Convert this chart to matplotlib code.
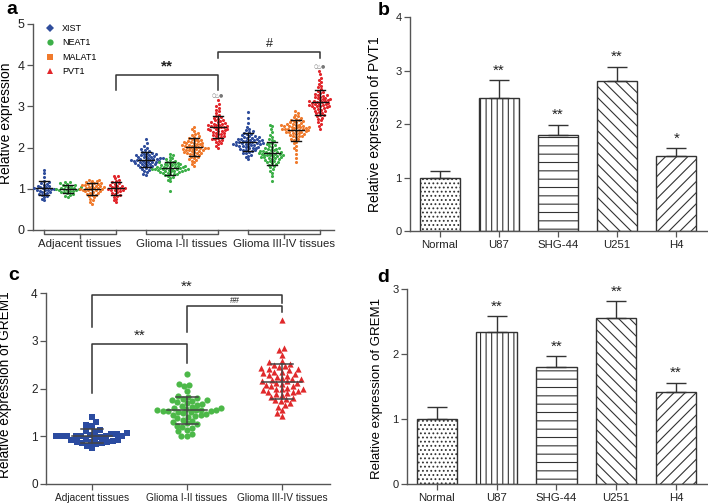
import numpy as np
import matplotlib
matplotlib.use("Agg")
import matplotlib.pyplot as plt
from matplotlib.lines import Line2D
import matplotlib.transforms as mtransforms

plt.rcParams['font.family'] = ['Liberation Sans', 'DejaVu Sans']
plt.rcParams['hatch.linewidth'] = 0.8

# ---------------- data ----------------
groups_a = ["Adjacent tissues", "Glioma I-II tissues", "Glioma III-IV tissues"]
genes_a = ["XIST", "NEAT1", "MALAT1", "PVT1"]

adj_xist = [0.72,0.76,0.8,0.82,0.85,0.87,0.88,0.9,0.92,0.93,0.95,0.96,0.97,0.98,1.0,1.0,1.01,1.02,1.04,1.05,1.06,1.08,1.1,1.12,1.14,1.17,1.2,1.28,1.38,1.46]
adj_neat1 = [0.8,0.83,0.86,0.88,0.9,0.92,0.93,0.95,0.96,0.97,0.98,0.99,1.0,1.0,1.01,1.02,1.03,1.04,1.05,1.06,1.08,1.09,1.1,1.12,1.14,1.16,1.17,0.94]
adj_malat1 = [0.62,0.68,0.72,0.76,0.79,0.82,0.84,0.86,0.88,0.9,0.91,0.93,0.94,0.95,0.96,0.97,0.98,0.99,1.0,1.0,1.01,1.02,1.03,1.04,1.05,1.06,1.07,1.08,1.09,1.1,1.11,1.12,1.13,1.14,1.15,1.16,1.18,1.2,1.21,1.22]
adj_pvt1 = [0.68,0.72,0.76,0.8,0.83,0.86,0.88,0.9,0.92,0.94,0.96,0.97,0.98,1.0,1.0,1.01,1.02,1.04,1.05,1.07,1.08,1.1,1.12,1.14,1.16,1.19,1.22,1.26,1.3,1.32]

g12_xist = [1.33,1.36,1.4,1.43,1.45,1.47,1.5,1.52,1.53,1.55,1.56,1.58,1.59,1.6,1.61,1.62,1.63,1.64,1.65,1.66,1.67,1.68,1.68,1.69,1.7,1.7,1.71,1.72,1.72,1.73,1.74,1.75,1.76,1.77,1.78,1.79,1.8,1.81,1.82,1.83,1.84,1.85,1.86,1.88,1.9,1.92,1.94,1.97,2.0,2.05,2.1,2.22,1.57,1.66,1.74]
g12_neat1 = [0.95,1.18,1.22,1.26,1.29,1.31,1.33,1.35,1.36,1.38,1.39,1.4,1.41,1.42,1.43,1.44,1.45,1.45,1.46,1.47,1.47,1.48,1.48,1.49,1.5,1.5,1.51,1.52,1.52,1.53,1.54,1.55,1.56,1.57,1.58,1.59,1.6,1.61,1.62,1.63,1.64,1.65,1.66,1.68,1.7,1.72,1.75,1.78,1.82,1.85,1.37,1.43,1.49,1.53,1.58]
g12_malat1 = [1.55,1.6,1.64,1.68,1.7,1.72,1.74,1.76,1.78,1.8,1.82,1.84,1.85,1.86,1.88,1.89,1.9,1.91,1.92,1.93,1.94,1.95,1.96,1.97,1.98,1.99,2.0,2.0,2.01,2.02,2.03,2.04,2.05,2.06,2.07,2.08,2.09,2.1,2.11,2.12,2.13,2.14,2.15,2.16,2.18,2.19,2.2,2.22,2.24,2.26,2.28,2.3,2.33,2.36,2.4,2.45,2.5,1.87,1.96,2.03]
g12_pvt1 = [2.0,2.04,2.08,2.1,2.13,2.16,2.18,2.2,2.22,2.24,2.26,2.28,2.3,2.32,2.34,2.36,2.38,2.4,2.41,2.42,2.44,2.45,2.46,2.48,2.49,2.5,2.51,2.52,2.54,2.55,2.56,2.58,2.6,2.62,2.64,2.66,2.68,2.7,2.72,2.74,2.76,2.8,2.84,2.88,2.92,2.96,3.0,3.05,3.15,2.35,2.43,2.53,2.61,2.27,2.57]

g34_xist = [1.72,1.76,1.8,1.83,1.86,1.88,1.9,1.92,1.94,1.95,1.97,1.98,2.0,2.01,2.02,2.03,2.04,2.05,2.06,2.07,2.08,2.09,2.1,2.1,2.11,2.12,2.13,2.14,2.15,2.16,2.17,2.18,2.19,2.2,2.21,2.22,2.23,2.24,2.25,2.26,2.28,2.3,2.32,2.34,2.36,2.38,2.4,2.42,2.45,2.5,2.6,2.72,2.87,1.99,2.06,2.13,2.18,2.27,1.93,2.08]
g34_neat1 = [1.2,1.3,1.38,1.44,1.48,1.52,1.55,1.58,1.6,1.62,1.64,1.66,1.68,1.7,1.72,1.74,1.75,1.76,1.78,1.79,1.8,1.81,1.82,1.83,1.84,1.85,1.86,1.87,1.88,1.89,1.9,1.91,1.92,1.93,1.95,1.96,1.98,2.0,2.02,2.04,2.06,2.08,2.1,2.12,2.15,2.18,2.2,2.25,2.3,2.38,2.45,2.52,2.56,1.77,1.85,1.9,1.73,1.97,1.67,1.83]
g34_malat1 = [1.65,1.75,1.85,1.95,2.0,2.05,2.1,2.14,2.18,2.2,2.22,2.25,2.27,2.29,2.31,2.33,2.35,2.36,2.38,2.39,2.4,2.41,2.42,2.43,2.44,2.45,2.46,2.47,2.48,2.49,2.5,2.51,2.52,2.53,2.54,2.55,2.56,2.58,2.6,2.62,2.64,2.66,2.68,2.7,2.72,2.74,2.76,2.8,2.84,2.88,2.37,2.43,2.5,2.57,2.34,2.46,2.53,2.61,2.28,2.65]
g34_pvt1 = [2.45,2.52,2.58,2.62,2.66,2.7,2.73,2.76,2.78,2.8,2.83,2.85,2.87,2.9,2.92,2.94,2.96,2.98,3.0,3.01,3.02,3.04,3.05,3.06,3.08,3.09,3.1,3.12,3.13,3.14,3.15,3.17,3.18,3.2,3.22,3.24,3.26,3.28,3.3,3.32,3.35,3.38,3.42,3.46,3.5,3.55,3.6,3.65,3.7,3.78,3.85,3.03,3.11,3.16,2.97,3.07,3.21,2.89,3.27,3.0]

cells = ["Normal", "U87", "SHG-44", "U251", "H4"]
pvt1_mean = [1.0, 2.49, 1.79, 2.80, 1.40]
pvt1_err = [0.12, 0.33, 0.20, 0.27, 0.15]
pvt1_sig = ["", "**", "**", "**", "*"]

groups_c = ["Adjacent tissues", "Glioma I-II tissues", "Glioma III-IV tissues"]
grem1_adj = [0.75,0.8,0.83,0.85,0.86,0.87,0.88,0.9,0.92,0.93,0.94,0.96,0.98,1.0,1.0,1.0,1.0,1.0,1.0,1.01,1.02,1.04,1.05,1.06,1.08,1.1,1.13,1.22,1.24,1.3,1.4,0.89]
grem1_g12 = [1.0,1.01,1.05,1.1,1.14,1.18,1.2,1.22,1.25,1.28,1.3,1.32,1.35,1.38,1.4,1.42,1.44,1.46,1.48,1.5,1.51,1.52,1.53,1.54,1.55,1.56,1.58,1.6,1.62,1.64,1.66,1.68,1.7,1.72,1.74,1.76,1.78,1.8,1.82,1.85,1.95,2.05,2.08,2.1,2.3,1.53,1.55,1.6,1.45,1.75]
grem1_g34 = [1.43,1.48,1.55,1.62,1.65,1.7,1.75,1.78,1.8,1.83,1.86,1.88,1.9,1.93,1.95,1.98,2.0,2.02,2.05,2.08,2.1,2.12,2.15,2.18,2.2,2.22,2.25,2.28,2.3,2.32,2.35,2.38,2.4,2.42,2.45,2.5,2.52,2.55,2.58,2.7,2.8,2.85,3.43,2.12,2.2,1.92,2.05,2.35,2.48,2.0,1.97,2.27,2.15,2.4,1.73]

grem1_mean = [1.0, 2.34, 1.80, 2.56, 1.42]
grem1_err = [0.18, 0.24, 0.17, 0.26, 0.14]
grem1_sig = ["", "**", "**", "**", "**"]

# ---------------- styling ----------------
W, H = 708, 504
fig = plt.figure(figsize=(W / 100, H / 100), dpi=100)
AX = '#555555'
DARK = '#333333'
col_a = {"XIST": '#2f4d9c', "NEAT1": '#3caf48', "MALAT1": '#f07a2c', "PVT1": '#e2262b'}
mk_a = {"XIST": 'D', "NEAT1": 'o', "MALAT1": 's', "PVT1": '^'}


def px_axes(l, r, t, b):
    return fig.add_axes([l / W, (H - b) / H, (r - l) / W, (b - t) / H])


def style(ax, fs):
    for s in ['top', 'right']:
        ax.spines[s].set_visible(False)
    for s in ['left', 'bottom']:
        ax.spines[s].set_color(AX)
        ax.spines[s].set_linewidth(1.0)
    ax.tick_params(direction='out', length=4, width=0.9, color=AX, labelsize=fs, labelcolor='#222222', pad=2)


def swarm(ax, vals, diam_px):
    bb = ax.get_position()
    x0, x1 = ax.get_xlim()
    y0, y1 = ax.get_ylim()
    ppx = bb.width * W / (x1 - x0)
    ppy = bb.height * H / (y1 - y0)
    vals = np.asarray(vals, float)
    ys = vals * ppy
    order = np.argsort(vals, kind='stable')
    px, py = [], []
    out = np.zeros(len(vals))
    for i in order:
        y = ys[i]
        iv = []
        for a, b in zip(px, py):
            dy = abs(b - y)
            if dy < diam_px:
                w = np.sqrt(diam_px ** 2 - dy ** 2)
                iv.append((a - w, a + w))
        cands = [0.0] + [a for a, b in iv] + [b for a, b in iv]
        cands.sort(key=lambda c: (abs(c), c))
        chosen = 0.0
        for c in cands:
            if all(not (a + 1e-6 < c < b - 1e-6) for a, b in iv):
                chosen = c
                break
        px.append(chosen)
        py.append(y)
        out[i] = chosen / ppx
    return out


def mean_sd(ax, x, vals, half_mean, half_cap, color, lw):
    m = np.mean(vals)
    sd = np.std(vals, ddof=1)
    ax.plot([x - half_mean, x + half_mean], [m, m], color=color, lw=lw, zorder=5)
    ax.plot([x, x], [m - sd, m + sd], color=color, lw=lw, zorder=5)
    for yv in (m - sd, m + sd):
        ax.plot([x - half_cap, x + half_cap], [yv, yv], color=color, lw=lw, zorder=5)


def bracket(ax, x1, x2, ytop, yl, yr, color='#333333', lw=1.1):
    ax.plot([x1, x1, x2, x2], [yl, ytop, ytop, yr], color=color, lw=lw, clip_on=False, zorder=6)


# ---------------- panel a ----------------
axa = px_axes(33, 334, 24, 230)
axa.set_xlim(-0.46, 12.08)
axa.set_ylim(0, 5)
style(axa, 9)
axa.set_yticks([0, 1, 2, 3, 4, 5])
axa.set_xticks([])
axa.set_ylabel("Relative expression", fontsize=10)
axa.yaxis.set_label_coords(-0.068, 0.52)

data_a = [[adj_xist, adj_neat1, adj_malat1, adj_pvt1],
          [g12_xist, g12_neat1, g12_malat1, g12_pvt1],
          [g34_xist, g34_neat1, g34_malat1, g34_pvt1]]
gstep = 4.25
for g, grp in enumerate(data_a):
    for s, vals in enumerate(grp):
        gene = genes_a[s]
        xc = g * gstep + s
        off = swarm(axa, vals, 3.0)
        axa.scatter(xc + off, vals, s=5, marker='o', color=col_a[gene], linewidths=0, zorder=3)
        mean_sd(axa, xc, vals, 0.33, 0.2, '#111111', 1.0)

# group under-axis brackets
trans = mtransforms.blended_transform_factory(axa.transData, axa.transAxes)
dy1 = 3.5 / 206
dy2 = 8.0 / 206
for g, name in enumerate(groups_a):
    xa = g * gstep
    xb = g * gstep + 3
    xm = (xa + xb) / 2
    axa.plot([xa, xa, xb, xb], [0, -dy1, -dy1, 0], color=AX, lw=1.0, transform=trans, clip_on=False)
    axa.plot([xm, xm], [-dy1, -dy2], color=AX, lw=1.0, transform=trans, clip_on=False)
    axa.text(xm, -9.0 / 206, name, transform=trans, ha='center', va='top', fontsize=8.2, color='#222222')

# significance
bracket(axa, 3, gstep + 3, 3.76, 3.40, 3.40)
axa.text((3 + gstep + 3) / 2, 3.80, "**", ha='center', va='bottom', fontsize=11, fontweight='bold', color='#222222')
bracket(axa, gstep + 3, 2 * gstep + 3, 4.32, 4.17, 4.17)
axa.text((gstep + 3 + 2 * gstep + 3) / 2, 4.36, "#", ha='center', va='bottom', fontsize=9, color='#222222')
for g in (1, 2):
    top = max(data_a[g][3])
    axa.text(g * gstep + 3, top + 0.06, "○△●", ha='center', va='bottom', fontsize=3.5, color='#777777',
             family=['DejaVu Sans'])

handles = [Line2D([], [], ls='none', marker=mk_a[gn], color=col_a[gn], markersize=4.5 if gn != "XIST" else 4,
                  markeredgewidth=0) for gn in genes_a]
leg = axa.legend(handles, genes_a, loc='upper left', bbox_to_anchor=(0.04, 1.0), frameon=False,
                 fontsize=6.5, handlelength=1.0, handletextpad=0.9, labelspacing=0.6,
                 borderpad=0, borderaxespad=0)
axa.text(-27 / 301, 1.07, "a", transform=axa.transAxes, fontsize=14, fontweight='bold', ha='left', va='center')

# ---------------- bar panels ----------------
hatches = ['....', '|||', '--', '\\\\\\', '///']


def bar_panel(ax, means, errs, sig, ylim, ylabel, labxy, labfs, letter, letter_xy, fs_tick):
    x = np.arange(len(cells))
    ax.set_xlim(-0.5, 4.52)
    ax.set_ylim(0, ylim)
    style(ax, fs_tick)
    ax.set_yticks(np.arange(0, ylim + 1))
    ax.bar(x, means, width=0.675, color='white', edgecolor=DARK, linewidth=1.0, hatch=hatches, zorder=2)
    ax.errorbar(x, means, yerr=[np.zeros(len(errs)), errs], fmt='none', ecolor=DARK, elinewidth=1.0,
                capsize=7, capthick=1.0, zorder=3)
    for xi, m, e, s in zip(x, means, errs, sig):
        if s:
            ax.text(xi, m + e + ylim * 0.012, s, ha='center', va='bottom', fontsize=11, color='#222222')
    ax.set_xticks(x)
    ax.set_xticklabels(cells)
    ax.tick_params(axis='x', labelsize=8.2, pad=2.5)
    ax.set_ylabel(ylabel, fontsize=labfs)
    ax.yaxis.set_label_coords(*labxy)
    ax.text(letter_xy[0], letter_xy[1], letter, transform=ax.transAxes, fontsize=14, fontweight='bold',
            ha='left', va='center')


axb = px_axes(410, 707, 17, 231)
bar_panel(axb, pvt1_mean, pvt1_err, pvt1_sig, 4, "Relative expression of PVT1", (-0.094, 0.5), 10,
          "b", (-0.11, 1.03), 8)

axd = px_axes(407, 707, 289, 484)
bar_panel(axd, grem1_mean, grem1_err, grem1_sig, 3, "Relative expression of GREM1", (-0.08, 0.49), 9.5,
          "d", (-0.10, 1.06), 8)

# ---------------- panel c ----------------
axc = px_axes(46, 330, 293, 484)
axc.set_xlim(-0.484, 2.505)
axc.set_ylim(0, 4)
style(axc, 8.5)
axc.set_yticks([0, 1, 2, 3, 4])
axc.set_xticks([0, 1, 2])
axc.set_xticklabels(groups_c)
axc.tick_params(axis='x', labelsize=7.3, pad=2.5)
axc.set_ylabel("Relative expression of GREM1", fontsize=9.8)
axc.yaxis.set_label_coords(-0.118, 0.52)

data_c = [grem1_adj, grem1_g12, grem1_g34]
cols_c = ['#2b4ba0', '#4cb848', '#e0292b']
mks_c = ['s', 'o', '^']
for i, vals in enumerate(data_c):
    off = swarm(axc, vals, 5.6)
    axc.scatter(i + off, vals, s=20, marker=mks_c[i], color=cols_c[i], linewidths=0, zorder=3)
    mean_sd(axc, i, vals, 0.21, 0.115, '#444444', 1.1)

bracket(axc, 0, 2, 3.96, 3.29, 3.79)
axc.text(1, 3.99, "**", ha='center', va='bottom', fontsize=11, color='#222222')
bracket(axc, 1, 2, 3.73, 3.18, 3.60)
axc.text(1.5, 3.75, "##", ha='center', va='bottom', fontsize=6.5, color='#222222')
bracket(axc, 0, 1, 2.93, 1.90, 2.53)
axc.text(0.5, 2.96, "**", ha='center', va='bottom', fontsize=11, color='#222222')
axc.text(-38 / 284, 1.09, "c", transform=axc.transAxes, fontsize=14, fontweight='bold', ha='left', va='center')

fig.savefig("out.png", dpi=100, facecolor='white')
